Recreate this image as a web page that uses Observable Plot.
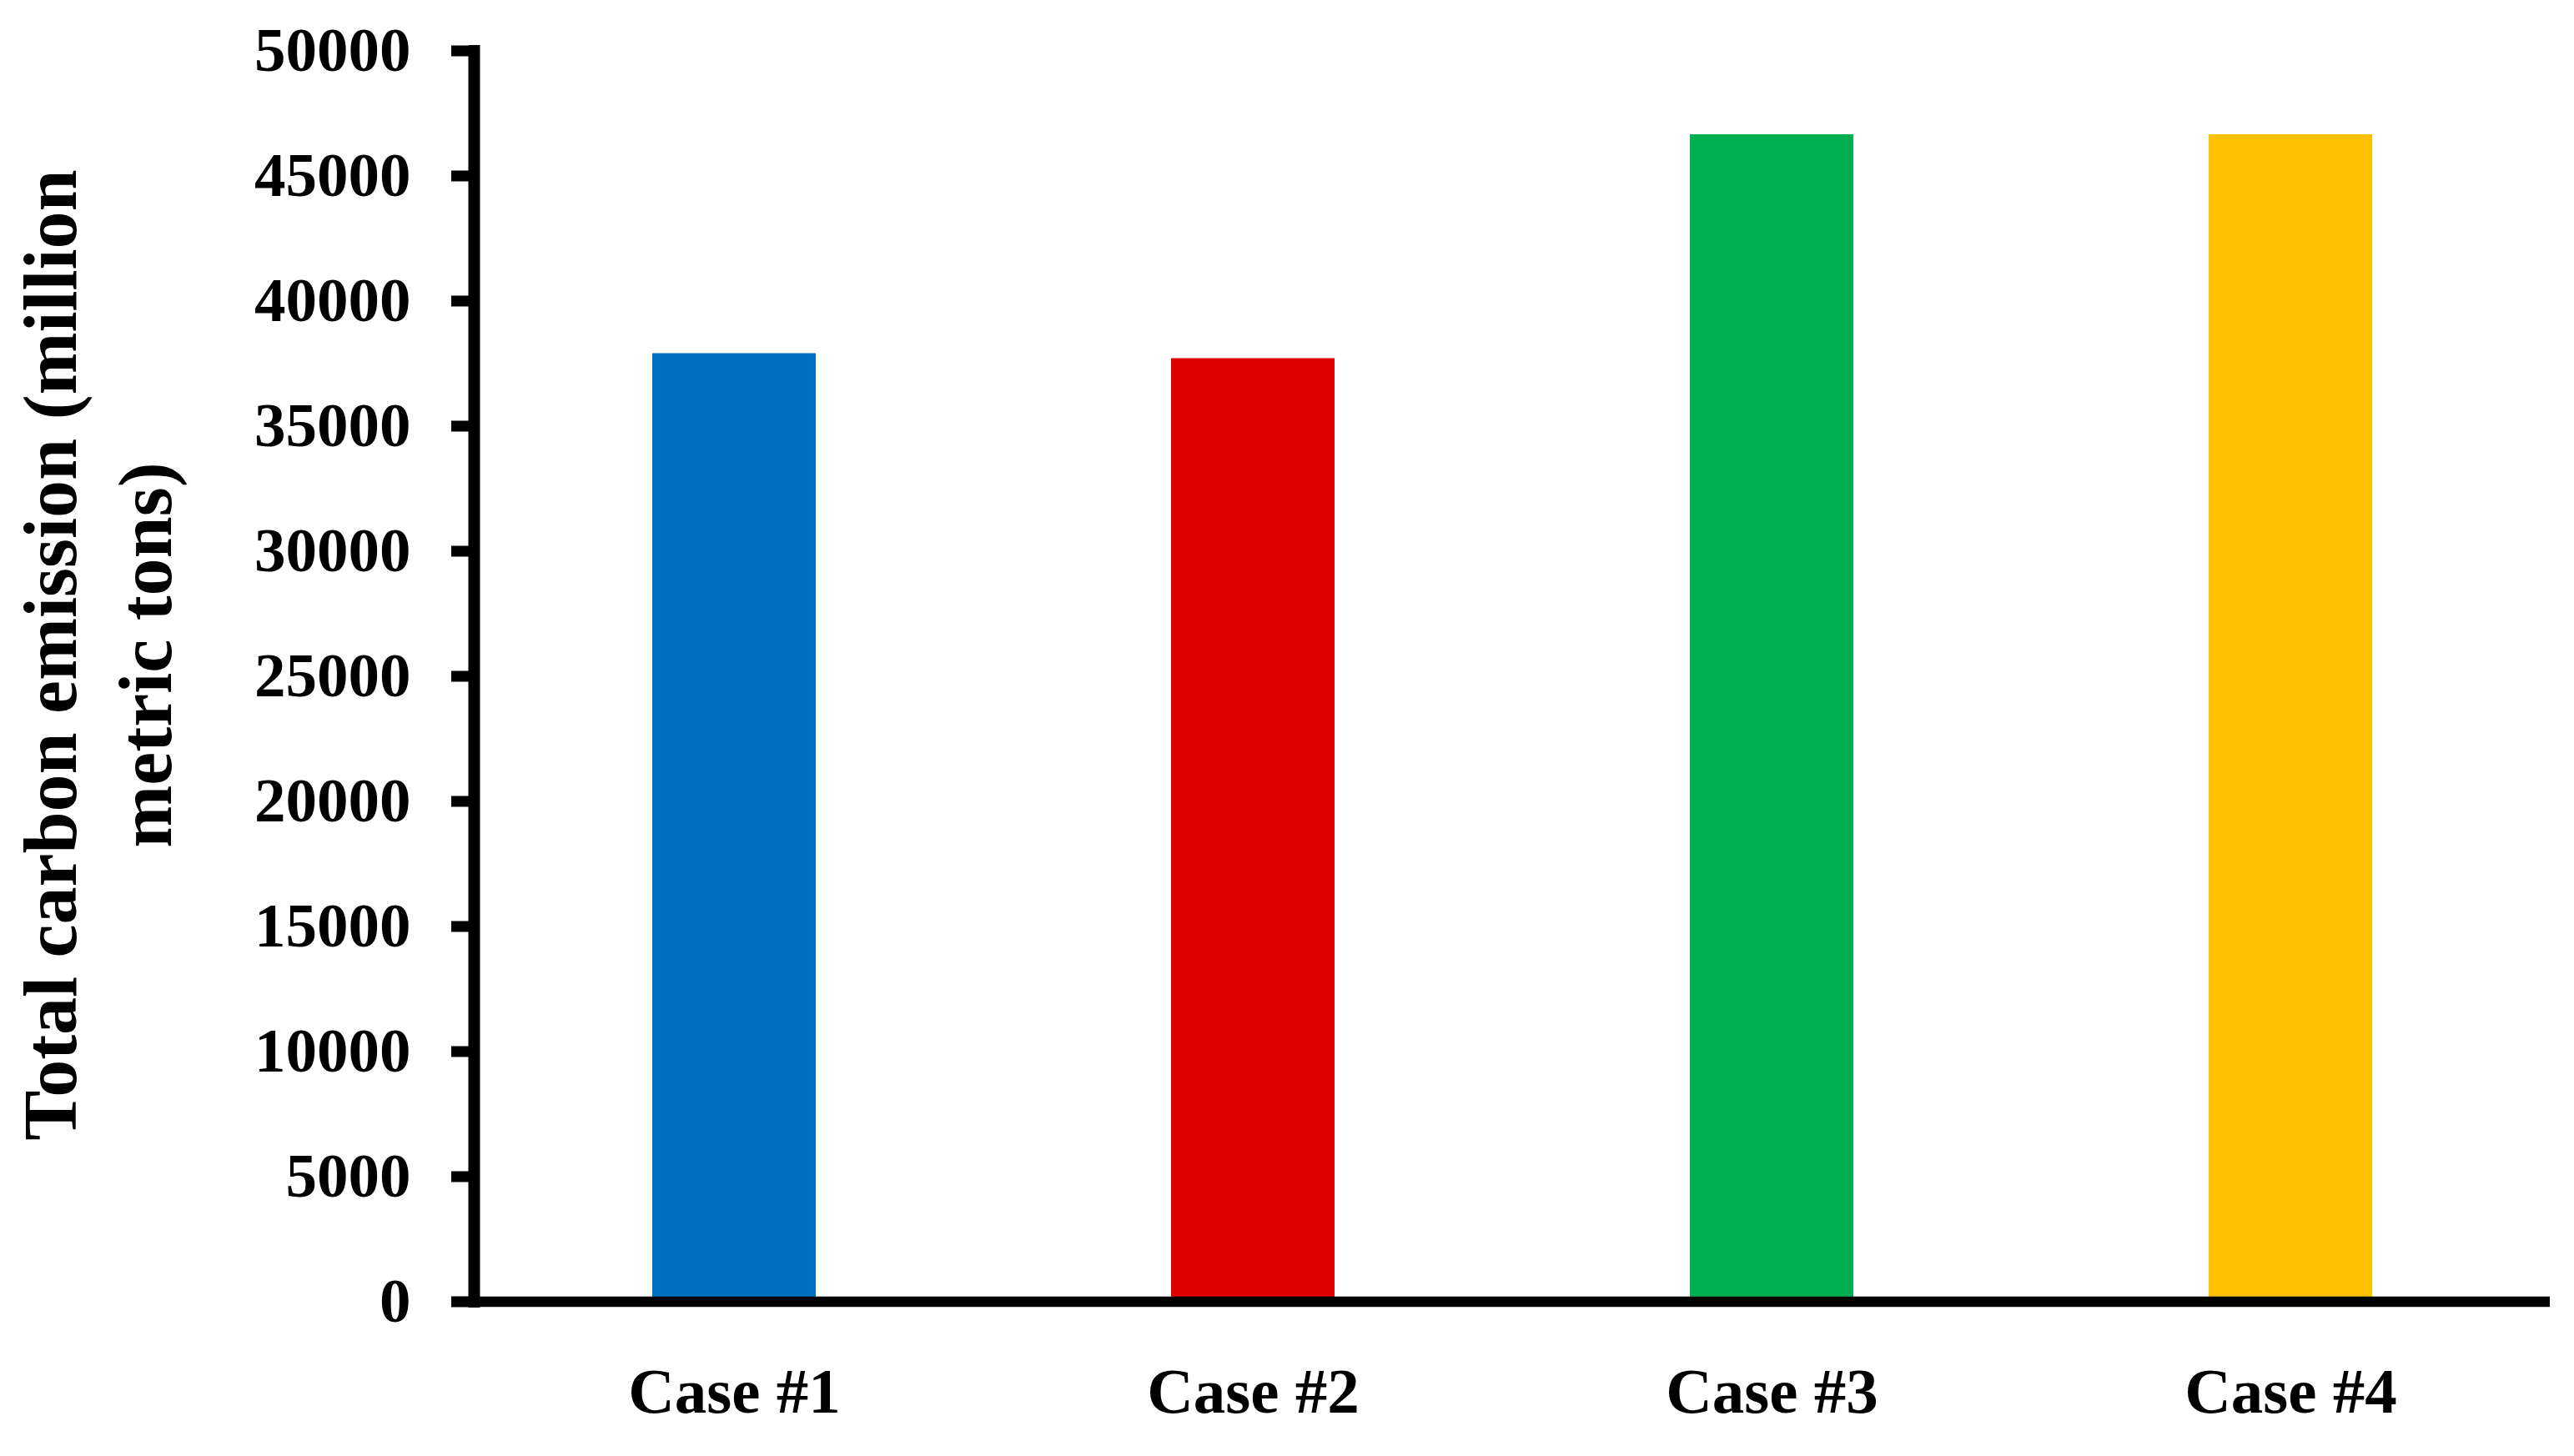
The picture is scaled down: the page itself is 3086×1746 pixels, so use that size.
<!DOCTYPE html>
<html>
<head>
<meta charset="utf-8">
<script src="https://cdn.jsdelivr.net/npm/d3@7"></script>
<script src="https://cdn.jsdelivr.net/npm/@observablehq/plot@0.6"></script>
<style>
  html, body { margin: 0; padding: 0; background: #fff; }
  #chart svg { display: block; }
</style>
</head>
<body>
<div id="chart"></div>
<script>
const cases = ["Case #1", "Case #2", "Case #3", "Case #4"];
const emissions = [37900, 37700, 46650, 46650];
const barColors = ["#0070C0", "#E00000", "#00B050", "#FFC000"];
const yTicks = [0, 5000, 10000, 15000, 20000, 25000, 30000, 35000, 40000, 45000, 50000];
const yTitle = "Total carbon emission (million\nmetric tons)";

const data = cases.map((c, i) => ({case: c, value: emissions[i]}));

const chart = Plot.plot({
  width: 3086,
  height: 1746,
  marginLeft: 568,
  marginRight: 29,
  marginTop: 60.5,
  marginBottom: 185.5,
  style: {fontFamily: "'Liberation Serif', 'Times New Roman', serif", background: "#fff", color: "#000"},
  x: {domain: cases, paddingInner: 0.685, paddingOuter: 0.3425, axis: null},
  y: {domain: [0, 50000], axis: null},
  color: {domain: cases, range: barColors},
  marks: [
    Plot.barY(data, {x: "case", y: "value", fill: "case"}),
    Plot.axisY({ticks: yTicks, tickFormat: d => String(d), tickSize: 27, tickPadding: 49, strokeWidth: 13, fontSize: 75, fontWeight: "bold", label: null}),
    Plot.axisX({tickSize: 0, tickPadding: 78, fontSize: 77, fontWeight: "bold", label: null}),
    Plot.ruleY([0], {strokeWidth: 12.5}),
    Plot.frame({anchor: "left", strokeWidth: 14}),
    Plot.text([yTitle], {frameAnchor: "left", rotate: -90, dx: -457, dy: -25.5, fontSize: 90, fontWeight: "bold", lineHeight: 1.27, textAnchor: "middle", fill: "#000"})
  ]
});
document.getElementById("chart").appendChild(chart);
</script>
</body>
</html>
